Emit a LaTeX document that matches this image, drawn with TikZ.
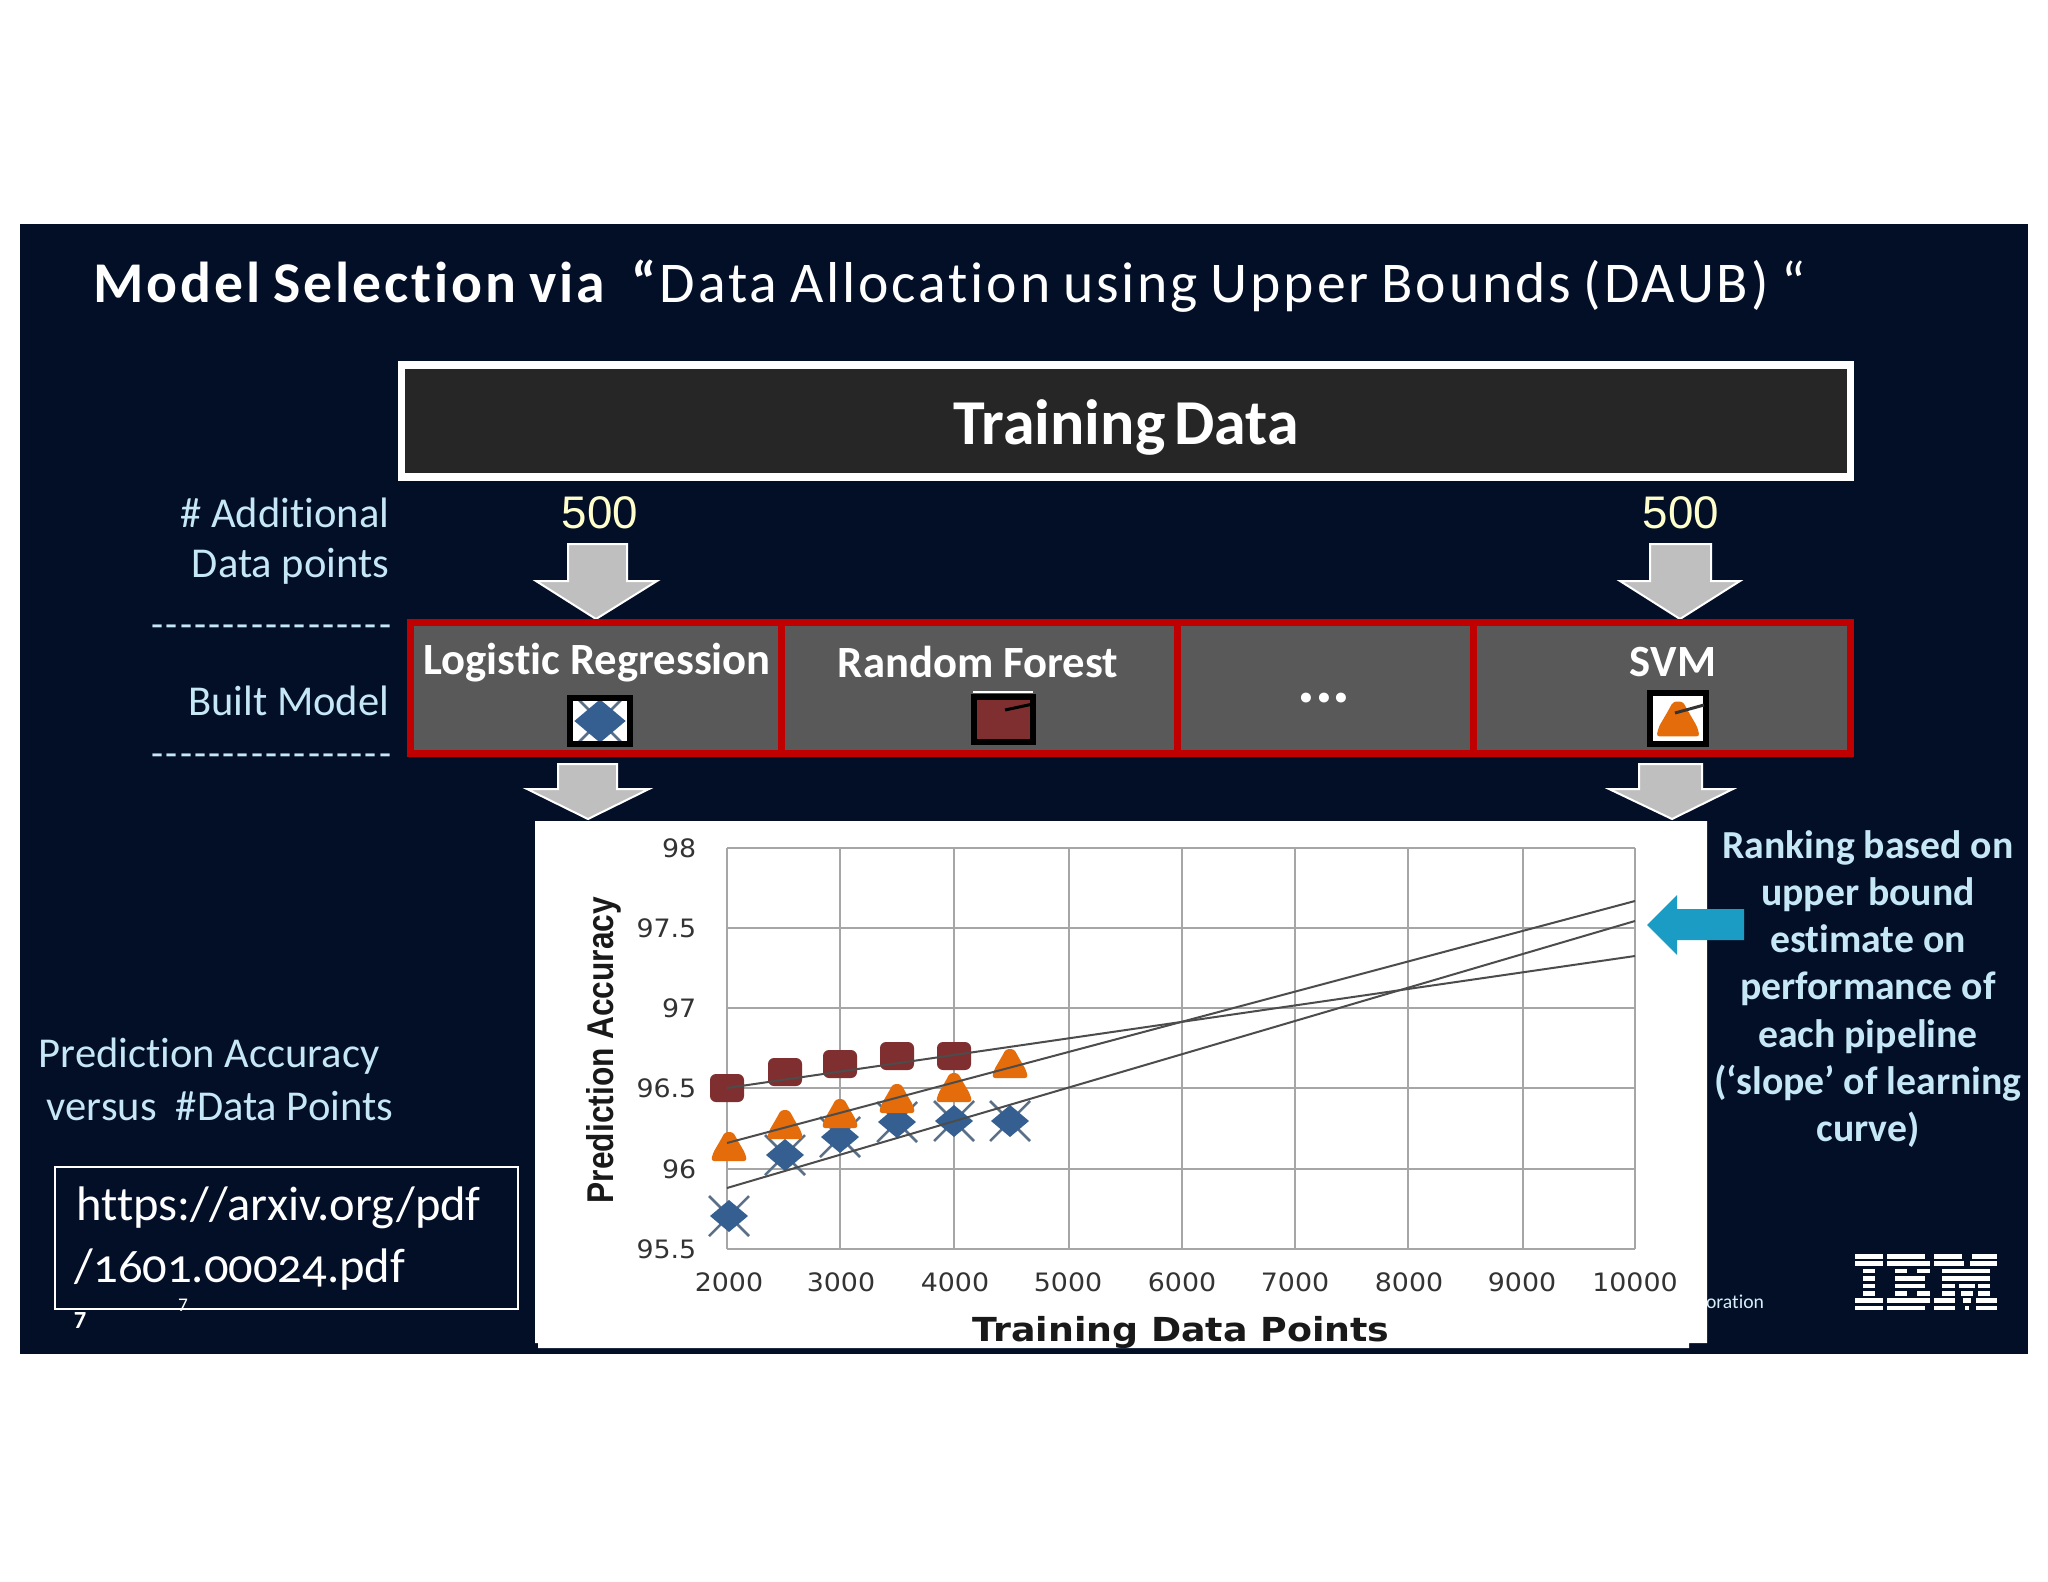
\documentclass[tikz,border=0pt]{standalone}
\usepackage{fontspec}
\setmainfont[Ligatures=CommonOff]{Carlito}
\newfontfamily\titlefont[LetterSpace=5,WordSpace=0.8,Ligatures=CommonOff]{Carlito}
\newfontfamily\slidefont[WordSpace=0.6,Ligatures=CommonOff]{Carlito}
\newfontfamily\dashfont[LetterSpace=5.5]{Carlito}
\newfontfamily\oldnumfont[Numbers=OldStyle,Ligatures=CommonOff]{Carlito}
\newfontfamily\chartfont{DejaVu Sans}
\newfontfamily\arialfont{Liberation Sans}

\definecolor{slidenavy}{HTML}{020F27}
\definecolor{boxblack}{HTML}{262626}
\definecolor{cellgray}{HTML}{595959}
\definecolor{cellred}{HTML}{C00000}
\definecolor{paleblue}{HTML}{C6E7F5}
\definecolor{cream}{HTML}{FFFFCC}
\definecolor{arrowgray}{HTML}{BFBFBF}
\definecolor{pointerblue}{HTML}{1B9CC4}
\definecolor{markblue}{HTML}{355F91}
\definecolor{markbrown}{HTML}{7F2F2F}
\definecolor{markorange}{HTML}{E46C0A}
\definecolor{gridgray}{HTML}{A6A6A6}
\definecolor{ticktext}{HTML}{333333}

% markers, drawn around the given point
\newcommand{\markblueat}[1]{
  \draw[markblue!50!gray,line width=.025cm] (#1)++(-20,-20) -- ++(40,40) (#1)++(-20,20) -- ++(40,-40);
  \fill[markblue] (#1)++(-19,0) -- ++(19,-16) -- ++(19,16) -- ++(-19,16) -- cycle;
}
\newcommand{\markbrownat}[1]{
  \fill[markbrown,rounded corners=.06cm] (#1)++(-17,-14) rectangle ++(34,28);
}
\newcommand{\markorangeat}[1]{
  \fill[markorange,rounded corners=.03cm] (#1)++(-18,12) -- ++(2,-8) -- ++(7,-12) -- ++(5,-9) -- ++(8,0) -- ++(5,9) -- ++(7,12) -- ++(2,8) -- cycle;
}

\begin{document}
\begin{tikzpicture}[
        x=.01cm,y=-.01cm,
        slidetext/.style={text=white,inner sep=0pt,font=\fontsize{12.7}{15}\selectfont\bfseries},
        sidetext/.style={text=paleblue,inner sep=0pt,font=\fontsize{12.1}{14}\selectfont},
        dashtext/.style={text=paleblue,inner sep=0pt,font=\dashfont\fontsize{11.2}{13}\selectfont},
        counttext/.style={text=cream,inner sep=0pt,font=\arialfont\fontsize{13}{15}\selectfont},
        ticklabel/.style={text=ticktext,inner sep=0pt,font=\chartfont\fontsize{7.2}{8}\selectfont,xscale=1.06},
        urltext/.style={anchor=west,text=white,inner sep=0pt,font=\oldnumfont\fontsize{13.8}{16}\selectfont},
        bxcell/.style={fill=cellgray,draw=cellred,line width=.07cm},
        bxarrow/.style={fill=arrowgray,draw=white,line width=.02cm},
        bxicon/.style={fill=white,draw=black,line width=.06cm},
        gridline/.style={draw=gridgray,line width=.02cm},
        fitline/.style={draw=black!70,line width=.02cm}
      ]
      \useasboundingbox (0,0) rectangle (2048,1582);
      \fill[white] (0,0) rectangle (2048,1582);
      \fill[slidenavy] (20,224) rectangle (2028,1354);

      \path (93,286) node[anchor=west,text=white,inner sep=0pt,font=\titlefont\fontsize{16.4}{18}\selectfont] (title)
        {\textbf{Model Selection via}\hspace{.42em}\textbf{“}Data Allocation using Upper Bounds (DAUB) “};

      \draw[fill=boxblack,draw=white,line width=.07cm] (401,365) rectangle (1850,477);
      \path (1126,427) node[text=white,inner sep=0pt,font=\slidefont\fontsize{18.2}{20}\selectfont\bfseries] (training) {Training Data};

      \path (390,513) node[sidetext,anchor=east] (additional) {\# Additional};
      \path (390,566) node[sidetext,anchor=east] (datapoints) {Data points};
      \path (392,631) node[dashtext,anchor=east] (dashtop) {-----------------};
      \path (390,701) node[sidetext,anchor=east] (built) {Built Model};
      \path (392,760) node[dashtext,anchor=east] (dashbot) {-----------------};
      \path (600,513) node[counttext] (counta) {500};
      \path (1681,513) node[counttext] (countb) {500};

      % block arrows above the table
      \draw[bxarrow] (568,544) -- (627,544) -- (627,581) -- (657,581) -- (596,619) -- (536,581) -- (568,581) -- cycle;
      \draw[bxarrow] (1650,544) -- (1711,544) -- (1711,581) -- (1740,581) -- (1680,619) -- (1620,581) -- (1650,581) -- cycle;

      \draw[bxcell] (410,622) rectangle (781,753);
      \draw[bxcell] (781,622) rectangle (1177,753);
      \draw[bxcell] (1177,622) rectangle (1473,753);
      \draw[bxcell] (1473,622) rectangle (1850,753);

      \path (597,663) node[slidetext] (logistic) {Logistic Regression};
      \path (978,662) node[slidetext] (forest) {Random Forest};
      \path (1324,698) node[text=white,inner sep=0pt,font=\fontsize{19}{21}\selectfont\bfseries] (dots) {...};
      \path (1673,662) node[slidetext] (svm) {SVM};

      % legend icons
      \draw[bxicon] (570,698) rectangle (630,744);
      \begin{scope}
        \clip (570,698) rectangle (630,744);
        \begin{scope}[shift={(600,721)},scale=1.35]
          \markblueat{0,0}
        \end{scope}
      \end{scope}
      \draw[draw=black,line width=.06cm] (570,698) rectangle (630,744);
      \draw[white,line width=.02cm] (973,692) -- (1033,692);
      \draw[bxicon,fill=markbrown] (974,697) rectangle (1033,742);
      \draw[black,line width=.03cm] (1005,710) -- (1033,704);
      \draw[bxicon] (1650,693) rectangle (1706,744);
      \begin{scope}[shift={(1678,722)},scale=1.2]
        \markorangeat{0,0}
      \end{scope}
      \draw[black!80,line width=.03cm] (1675,713) -- (1704,705);

      % lower arrows
      \draw[bxarrow] (558,764) -- (617,764) -- (617,789) -- (649,789) -- (588,819) -- (527,789) -- (558,789) -- cycle;
      \draw[bxarrow] (1639,764) -- (1702,764) -- (1702,789) -- (1733,789) -- (1672,819) -- (1609,789) -- (1639,789) -- cycle;

      % footer text, partly behind the chart
      \path (1735,1302) node[text=paleblue!70!white,inner sep=0pt,font=\fontsize{5.6}{6}\selectfont] (footer) {oration};

      % chart sheet
      \fill[white] (535,821) -- (1707,821) -- (1707,1343) -- (1689,1343) -- (1689,1348) -- (538,1348) -- (538,1343) -- (535,1343) -- cycle;

      \foreach \gx in {727,840,954,1069,1182,1295,1408,1523,1635}
        \draw[gridline] (\gx,848) -- (\gx,1249);
      \foreach \gy in {848,928,1008,1088,1169,1249}
        \draw[gridline] (727,\gy) -- (1635,\gy);

      \foreach \gy/\tick in {848/98,928/97.5,1008/97,1088/96.5,1169/96,1249/95.5}
        \path (697,\gy) node[ticklabel,anchor=east] (y\tick) {\tick};
      \foreach \gx/\tick in {729/2000,841/3000,955/4000,1068/5000,1182/6000,1295/7000,1409/8000,1522/9000,1635/10000}
        \path (\gx,1282) node[ticklabel] (x\tick) {\tick};

      \path (1181,1332) node[inner sep=0pt,text=black!90,xscale=1.1,font=\chartfont\fontsize{9.4}{11}\selectfont\bfseries] (xtitle) {Training Data Points};
      \path (604,1050) node[rotate=90,xscale=.85,inner sep=0pt,text=black!90,font=\arialfont\fontsize{10.6}{12}\selectfont\bfseries] (ytitle) {Prediction Accuracy};

      \foreach \mx/\my in {729/1216,785/1155,840/1137,897/1122,954/1121,1010/1121}
        {\markblueat{\mx,\my}}
      \foreach \mx/\my in {729/1149,785/1127,840/1116,897/1101,954/1090,1010/1066}
        {\markorangeat{\mx,\my}}
      \foreach \mx/\my in {727/1088,785/1072,840/1064,897/1056,954/1056}
        {\markbrownat{\mx,\my}}

      \draw[fitline] (727,1088) -- (1635,956);
      \draw[fitline] (727,1143) -- (1635,901);
      \draw[fitline] (727,1188) -- (1635,921);

      % pointer to the ranking
      \fill[pointerblue] (1647,925) -- (1677,895) -- (1677,909) -- (1744,909) -- (1744,940) -- (1677,940) -- (1677,955) -- cycle;

      \path (1868,989) node[sidetext,font=\fontsize{11.3}{13.4}\selectfont\bfseries,align=center] (ranking)
        {Ranking based on\\upper bound\\estimate on\\performance of\\each pipeline\\(‘slope’ of learning\\curve)};

      \path (209,1056) node[sidetext] (accuracy) {Prediction Accuracy};
      \path (220,1106) node[sidetext] (versus) {versus\ \ \#Data Points};

      \draw[white,line width=.02cm] (55,1167) rectangle (518,1309);
      \path (76,1208) node[urltext] (urla) {https://arxiv.org/pdf};
      \path (74,1270) node[urltext] (urlb) {/1601.00024.pdf};
      \path (80,1321) node[text=white,inner sep=0pt,font=\fontsize{7}{8}\selectfont\bfseries] (pagea) {7};
      \path (183,1305) node[text=white,inner sep=0pt,font=\fontsize{5.5}{6}\selectfont] (pageb) {7};

      % logo bars
      \foreach \row/\xa/\xb in {0/1855/1883,1/1855/1883,2/1863/1875,3/1863/1875,4/1863/1875,5/1863/1875,6/1855/1883,7/1855/1883,
        0/1887/1925,1/1887/1930,2/1895/1907,2/1917/1930,3/1895/1925,4/1895/1925,5/1895/1907,5/1917/1930,6/1887/1930,7/1887/1925,
        0/1934/1962,0/1972/1997,1/1934/1964,1/1970/1997,2/1942/1990,3/1942/1990,4/1942/1955,4/1959/1975,4/1978/1990,
        5/1942/1955,5/1961/1973,5/1978/1990,6/1934/1955,6/1963/1971,6/1976/1997,7/1934/1955,7/1965/1969,7/1976/1997}
        \fill[white] (\xa,1254+\row*7.4) rectangle (\xb,1258.5+\row*7.4);

    \end{tikzpicture}
\end{document}
